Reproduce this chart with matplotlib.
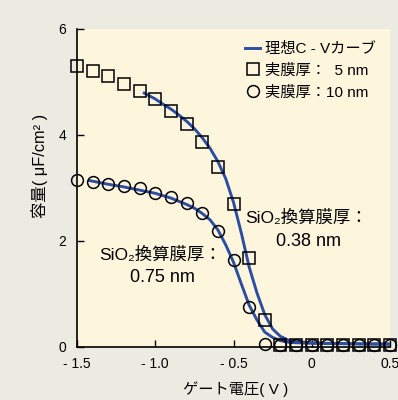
import matplotlib
matplotlib.use("Agg")
import matplotlib.pyplot as plt
from matplotlib.lines import Line2D

plt.rcParams['font.family'] = ['Liberation Sans', 'Noto Sans CJK JP', 'DejaVu Sans']

# measured points, 0.1 V steps
gate_v = [-1.5, -1.4, -1.3, -1.2, -1.1, -1.0, -0.9, -0.8, -0.7, -0.6, -0.5,
          -0.4, -0.3, -0.2, -0.1, 0.0, 0.1, 0.2, 0.3, 0.4, 0.5]
cap_5nm = [5.30, 5.21, 5.11, 4.96, 4.83, 4.68, 4.45, 4.21, 3.87, 3.40, 2.70,
           1.68, 0.51, 0.04, 0.04, 0.04, 0.04, 0.04, 0.04, 0.04, 0.04]
cap_10nm = [3.15, 3.11, 3.08, 3.04, 3.00, 2.91, 2.83, 2.72, 2.53, 2.19, 1.64,
            0.75, 0.06, 0.04, 0.04, 0.04, 0.04, 0.04, 0.04, 0.04, 0.04]

# ideal C-V curves
ideal_v1 = [-1.07, -1.0, -0.95, -0.9, -0.85, -0.8, -0.75, -0.7, -0.65, -0.6,
            -0.55, -0.5, -0.45, -0.4, -0.35, -0.3, -0.25, -0.2, -0.15, -0.1,
            0.0, 0.1, 0.3, 0.5]
ideal_c1 = [4.79, 4.68, 4.58, 4.49, 4.38, 4.26, 4.12, 3.95, 3.75, 3.50,
            3.18, 2.73, 2.15, 1.51, 1.02, 0.61, 0.34, 0.20, 0.13, 0.10,
            0.08, 0.07, 0.06, 0.06]
ideal_v2 = [-1.42, -1.3, -1.2, -1.1, -1.0, -0.9, -0.8, -0.75, -0.7, -0.65,
            -0.6, -0.55, -0.5, -0.45, -0.4, -0.35, -0.3, -0.25, -0.2, -0.15,
            -0.1, 0.0, 0.5]
ideal_c2 = [3.14, 3.07, 3.02, 2.96, 2.90, 2.81, 2.69, 2.62, 2.52, 2.40,
            2.21, 1.93, 1.60, 1.19, 0.79, 0.51, 0.28, 0.18, 0.12, 0.09,
            0.08, 0.07, 0.05]

xticks = [-1.5, -1.0, -0.5, 0.0, 0.5]
xticklabels = ['- 1.5', '- 1.0', '- 0.5', '0', '0.5']
yticks = [0, 2, 4, 6]

blue = '#2b4da3'
bg = '#ecebe2'

fig = plt.figure(figsize=(3.98, 4.0), dpi=100, facecolor=bg)
ax = fig.add_axes([77 / 398, 53 / 400, 313 / 398, 318 / 400])
ax.set_facecolor('#fef6dc')

ax.plot(ideal_v1, ideal_c1, color=blue, lw=2.1, zorder=2)
ax.plot(ideal_v2, ideal_c2, color=blue, lw=2.1, zorder=2)
ax.plot(gate_v, cap_10nm, 'o', ms=8.5, mfc='none', mec='black', mew=1.1,
        clip_on=False, zorder=3)
ax.plot(gate_v, cap_5nm, 's', ms=8.3, mfc='none', mec='black', mew=1.1,
        clip_on=False, zorder=3)

ax.set_xlim(-1.5, 0.5)
ax.set_ylim(0, 6)
ax.set_xticks(xticks)
ax.set_xticklabels(xticklabels)
ax.set_yticks(yticks)
ax.tick_params(direction='in', length=5, width=1, labelsize=10, colors='black')
ax.tick_params(axis='x', pad=7)
ax.tick_params(axis='y', pad=8)
for side in ['top', 'right']:
    ax.spines[side].set_visible(False)
for side in ['left', 'bottom']:
    ax.spines[side].set_linewidth(1.2)

fig.text(236 / 398, 1 - 389 / 400, 'ゲート電圧( V )', ha='center', va='center',
         fontsize=11)
fig.text(39 / 398, 1 - 166 / 400, '容量( μF/cm² )', ha='center', va='center',
         rotation=90, fontsize=11.8)

# oxide-equivalent thickness notes
fig.text(306 / 398, 1 - 218 / 400, 'SiO₂換算膜厚：', ha='center', va='center',
         fontsize=12.5)
fig.text(309 / 398, 1 - 242 / 400, '0.38 nm', ha='center', va='center',
         fontsize=13)
fig.text(160 / 398, 1 - 255 / 400, 'SiO₂換算膜厚：', ha='center', va='center',
         fontsize=12.5)
fig.text(162 / 398, 1 - 278 / 400, '0.75 nm', ha='center', va='center',
         fontsize=13)

handles = [
    Line2D([], [], color=blue, lw=2.1),
    Line2D([], [], ls='none', marker='s', ms=8.3, mfc='none', mec='black', mew=1.1),
    Line2D([], [], ls='none', marker='o', ms=8.5, mfc='none', mec='black', mew=1.1),
]
labels = ['理想C - Vカーブ', '実膜厚：  5 nm', '実膜厚：10 nm']
ax.legend(handles, labels, loc='upper left', bbox_to_anchor=(245 / 398, 1 - 42 / 400),
          bbox_transform=fig.transFigure, frameon=False, fontsize=11,
          handlelength=1.0, handletextpad=0.3, labelspacing=0.5,
          borderpad=0, borderaxespad=0)

fig.savefig('out.png', dpi=100, facecolor=bg)
